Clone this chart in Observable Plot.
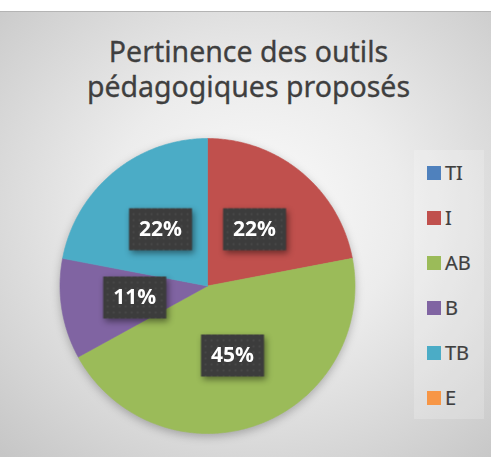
<!DOCTYPE html>
<html>
<head>
<meta charset="utf-8">
<script src="https://cdn.jsdelivr.net/npm/d3@7"></script>
<script src="https://cdn.jsdelivr.net/npm/@observablehq/plot@0.6"></script>
<style>
  html, body { margin: 0; padding: 0; background: #ffffff; }
  #chart {
    position: absolute; left: 0; top: 11px; width: 491px; height: 446px;
    background: radial-gradient(ellipse 75% 75% at 52% 45%, #fbfbfb 0%, #ececec 40%, #d3d3d3 80%, #c6c6c6 100%);
    border-top: 1px solid #b4b4b4; box-sizing: border-box; overflow: hidden;
    font-family: "Noto Sans", "Open Sans", sans-serif;
  }
  #title {
    position: absolute; left: 0; width: 491px; top: 22px; text-align: center;
    font-size: 28.5px; line-height: 35px; color: #3f3f3f; padding-left: 6px; box-sizing: border-box;
    -webkit-text-stroke: 0.3px #3f3f3f;
  }
  #plot { position: absolute; left: 0; top: 0; }
  #legend {
    position: absolute; left: 414px; top: 138px; width: 70px; height: 269px;
    background: rgba(255,255,255,0.2);
  }
  .item { display: flex; align-items: center; height: 45px; padding-left: 13px; }
  .sw { width: 14px; height: 14px; margin-right: 4px; flex: none; }
  .lab { font-size: 20px; color: #3f3f3f; -webkit-text-stroke: 0.2px #3f3f3f; }
</style>
</head>
<body>
<div id="chart">
  <div id="plot"></div>
  <div id="title">Pertinence des outils<br>pédagogiques proposés</div>
  <div id="legend"></div>
</div>
<script>
const categories = ["TI", "I", "AB", "B", "TB", "E"];
const values = [0, 22, 45, 11, 22, 0];
const colors = ["#4f81bd", "#c0504d", "#9bbb59", "#8064a2", "#4bacc6", "#f79646"];

const data = categories.map((c, i) => ({key: c, value: values[i]}));
const arcs = d3.pie().sort(null).value(d => d.value)(data);

const pts = [];
for (const a of arcs) {
  if (a.data.value <= 0) continue;
  const k = a.data.key;
  pts.push({key: k, x: 0, y: 0});
  const n = Math.max(2, Math.ceil((a.endAngle - a.startAngle) / 0.01));
  for (let i = 0; i <= n; i++) {
    const t = a.startAngle + (a.endAngle - a.startAngle) * i / n;
    pts.push({key: k, x: Math.sin(t), y: Math.cos(t)});
  }
  pts.push({key: k, x: 0, y: 0});
}
const labels = arcs.filter(a => a.data.value > 0).map(a => {
  const m = (a.startAngle + a.endAngle) / 2;
  return {x: 0.5 * Math.sin(m), y: 0.5 * Math.cos(m), label: a.data.value + "%"};
});

const boxSymbol = { draw(ctx) { ctx.rect(-31.5, -21, 63, 42); } };

const W = 491, H = 446, R = 147.5, CX = 207, CY = 273.5;
const svg = Plot.plot({
  width: W, height: H,
  marginLeft: CX - R, marginRight: W - CX - R,
  marginTop: CY - R, marginBottom: H - CY - R,
  x: {domain: [-1, 1], axis: null},
  y: {domain: [-1, 1], axis: null},
  color: {domain: categories, range: colors},
  style: {background: "transparent", overflow: "visible"},
  marks: [
    Plot.line(pts, {x: "x", y: "y", z: "key", fill: "key", stroke: "key", strokeWidth: 0.6, curve: "linear"}),
    Plot.dot(labels, {x: "x", y: "y", symbol: boxSymbol, fill: "url(#dotpat)", stroke: "none"}),
    Plot.text(labels, {x: "x", y: "y", text: "label", fill: "white", fontSize: 21, fontWeight: "bold", fontFamily: "Open Sans, sans-serif"})
  ]
});

const ns = "http://www.w3.org/2000/svg";
const defs = document.createElementNS(ns, "defs");
defs.innerHTML = `<pattern id="dotpat" width="6" height="6" patternUnits="userSpaceOnUse">
  <rect width="6" height="6" fill="#3c3c3c"/><circle cx="3" cy="3" r="1" fill="#4c4c4c"/></pattern>`;
svg.insertBefore(defs, svg.firstChild);
const lineG = svg.querySelector('g[aria-label="line"]');
if (lineG) lineG.style.filter = "drop-shadow(0px 3px 4px rgba(0,0,0,0.25))";
const dotG = svg.querySelector('g[aria-label="dot"]');
if (dotG) dotG.style.filter = "drop-shadow(2px 3px 3px rgba(0,0,0,0.45))";
document.getElementById("plot").appendChild(svg);

const legend = document.getElementById("legend");
categories.forEach((c, i) => {
  const it = document.createElement("div");
  it.className = "item";
  it.innerHTML = `<span class="sw" style="background:${colors[i]}"></span><span class="lab">${c}</span>`;
  legend.appendChild(it);
});
</script>
</body>
</html>
